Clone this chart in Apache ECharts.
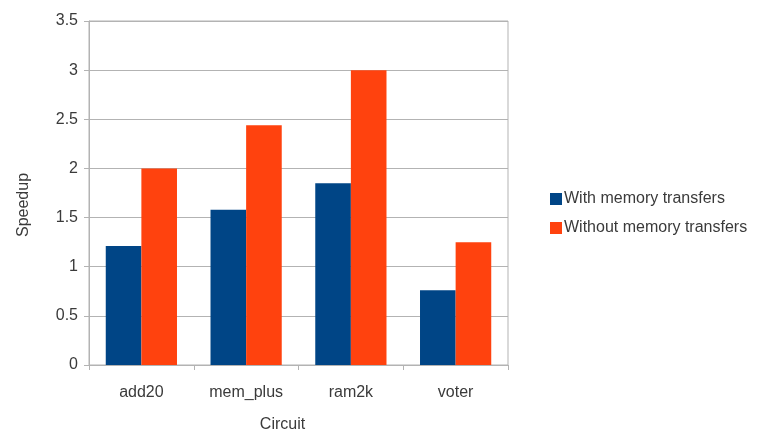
<!DOCTYPE html>
<html><head><meta charset="utf-8">
<script src="https://cdn.jsdelivr.net/npm/echarts@6/dist/echarts.min.js"></script>
<style>html,body{margin:0;padding:0;background:#fff}#c{width:761px;height:439px}</style>
</head><body><div id="c"></div>
<script>
const categories = ['add20', 'mem_plus', 'ram2k', 'voter'];
const withTransfers = [1.21, 1.58, 1.85, 0.76];
const withoutTransfers = [2.0, 2.44, 3.0, 1.25];
const seriesNames = ['With memory transfers', 'Without memory transfers'];
const yTicks = { min: 0, max: 3.5, interval: 0.5 };

const chart = echarts.init(document.getElementById('c'));
const font = 'Liberation Sans, DejaVu Sans, sans-serif';
const txt = { fontFamily: font, fontSize: 16, color: '#3a3a3a' };
chart.setOption({
  animation: false,
  textStyle: { fontFamily: font },
  grid: { left: 89, right: 253, top: 21, bottom: 74, show: true, borderColor: '#b3b3b3', borderWidth: 1 },
  legend: {
    orient: 'vertical', left: 545, top: 186, itemWidth: 12, itemHeight: 12, itemGap: 13,
    icon: 'rect',
    textStyle: Object.assign({}, txt, { padding: [0, 0, 0, -3] }),
    data: seriesNames
  },
  xAxis: {
    type: 'category', data: categories,
    name: 'Circuit', nameLocation: 'middle', nameGap: 52,
    nameTextStyle: Object.assign({}, txt, { padding: [0, 32, 0, 0] }),
    axisLine: { lineStyle: { color: '#b3b3b3' } },
    axisTick: { show: true, length: 5, lineStyle: { color: '#b3b3b3' } },
    axisLabel: Object.assign({}, txt, { margin: 20 })
  },
  yAxis: {
    type: 'value', min: yTicks.min, max: yTicks.max, interval: yTicks.interval,
    name: 'Speedup', nameLocation: 'middle', nameGap: 57,
    nameTextStyle: Object.assign({}, txt, { padding: [0, 24, 0, 0] }),
    axisLine: { show: true, lineStyle: { color: '#b3b3b3' } },
    axisTick: { show: true, length: 5, lineStyle: { color: '#b3b3b3' } },
    axisLabel: Object.assign({}, txt, { margin: 11 }),
    splitLine: { lineStyle: { color: '#b3b3b3' } }
  },
  series: [
    { name: seriesNames[0], type: 'bar', data: withTransfers, barGap: '0%', barCategoryGap: '32%', itemStyle: { color: '#004586' } },
    { name: seriesNames[1], type: 'bar', data: withoutTransfers, itemStyle: { color: '#ff420e' } }
  ]
});
</script></body></html>
